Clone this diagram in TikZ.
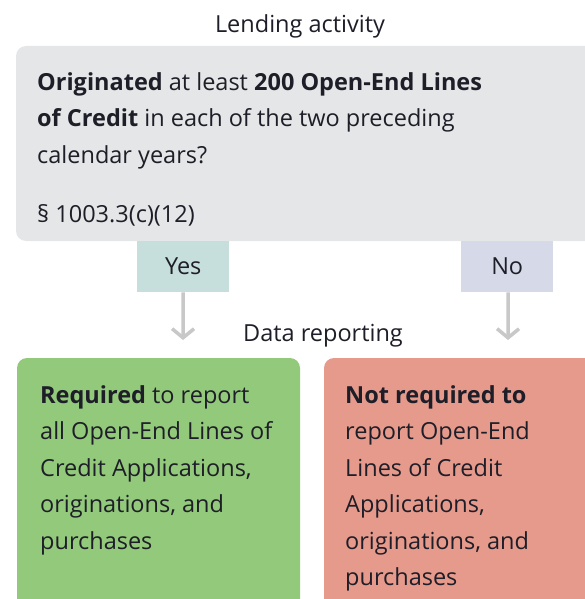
\documentclass[tikz,border=0pt]{standalone}
\usepackage{fontspec}
\setmainfont{Open Sans}
\usetikzlibrary{arrows.meta,positioning}
\definecolor{graybox}{HTML}{E5E6E7}
\definecolor{yesbox}{HTML}{C6DFDC}
\definecolor{nobox}{HTML}{D5D9E8}
\definecolor{greenbox}{HTML}{93C97A}
\definecolor{redbox}{HTML}{E59A8C}
\definecolor{arrowgray}{HTML}{C8C8C8}
\definecolor{ink}{HTML}{1E1E28}
\begin{document}
\begin{tikzpicture}[x=1pt,y=-1pt,
  every node/.style={text=ink,font=\fontsize{23.5}{36.5}\selectfont},
  panel/.style={rounded corners=10pt},
  label/.style={inner sep=0pt,anchor=base},
  body/.style={inner sep=0pt,anchor=base west,align=left},
  tag/.style={minimum width=92pt,minimum height=51pt,inner sep=0pt},
  flow/.style={draw=arrowgray,line width=3.5pt,-{Straight Barb[length=9pt,width=22pt,line width=3.5pt]}}]
\useasboundingbox (0,0) rectangle (585,599);
\clip (0,0) rectangle (585,599);
% headings
\node[label] (lending) at (300,33) {Lending activity};
\node[label] (datarep) at (323,341) {Data reporting};
% question panel
\fill[graybox,panel] (16,46) rectangle (620,241);
\node[body] (question) at (37,222) {\textbf{Originated} at least \textbf{200 Open-End Lines}\\
\textbf{of Credit} in each of the two preceding\\
calendar years?\\[22.5pt]
\S\ 1003.3(c)(12)};
% answer tags
\node[tag,fill=yesbox,anchor=north west] (yes) at (137,241) {};
\node[label] at (yes.center) [yshift=-8pt] {Yes};
\node[tag,fill=nobox,anchor=north west] (no) at (461,241) {};
\node[label] at (no.center) [yshift=-8pt] {No};
% outcome panels
\fill[greenbox,panel] (17,358) rectangle (300,640);
\fill[redbox,panel] (324,358) rectangle (620,640);
\node[body] (req) at (40,549) {\textbf{Required} to report\\
all Open-End Lines of\\
Credit Applications,\\
originations, and\\
purchases};
\node[body] (notreq) at (345,585.5) {\textbf{Not required to}\\
report Open-End\\
Lines of Credit\\
Applications,\\
originations, and\\
purchases};
\coordinate (yesend) at (183,340);
\coordinate (noend) at (508,340);
\draw[flow] (yes.south) -- (yesend);
\draw[flow] ([xshift=1pt]no.south) -- (noend);
\end{tikzpicture}
\end{document}
